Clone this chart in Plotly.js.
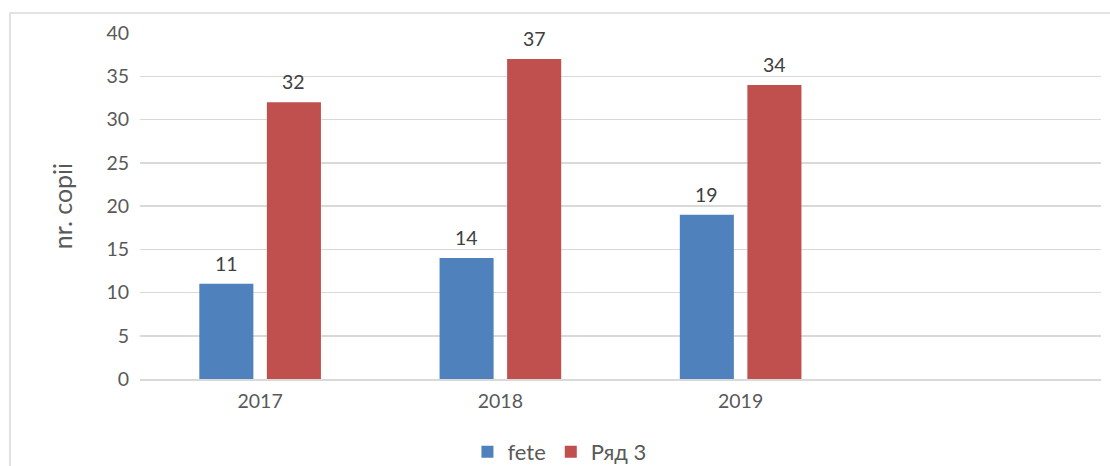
<!DOCTYPE html>
<html><head><meta charset="utf-8">
<script src="https://cdn.plot.ly/plotly-3.0.1.min.js"></script>
<style>body{margin:0;background:#fff}#c{width:1110px;height:466px}</style>
</head><body><div id="c"></div>
<script>
const categories = ["2017", "2018", "2019"];
const feteValues = [11, 14, 19];
const rad3Values = [32, 37, 34];
const seriesNames = ["fete", "Ряд 3"];
const yTicks = [0, 5, 10, 15, 20, 25, 30, 35, 40];

const font = "Lato, 'Open Sans', sans-serif";
const colors = ["#4f81bd", "#c0504d"];
const traces = [
  {type:"bar", name:seriesNames[0], x:categories, y:feteValues, marker:{color:colors[0]}},
  {type:"bar", name:seriesNames[1], x:categories, y:rad3Values, marker:{color:colors[1]}}
];
// value labels above bars (grouped offset of half a bar slot)
const annotations = [];
[feteValues, rad3Values].forEach((vals, si) => {
  vals.forEach((v, i) => annotations.push({
    x: i, y: v, xref:"x", yref:"y", text:String(v), showarrow:false,
    xanchor:"center", yanchor:"bottom", xshift: si === 0 ? -33.75 : 33.75, yshift: 7,
    font:{family:font, size:19.5, color:"#404040"}
  }));
});
const layout = {
  width:1110, height:466,
  margin:{l:140, r:9, t:33, b:87},
  paper_bgcolor:"#fff", plot_bgcolor:"#fff",
  font:{family:font, color:"#595959", size:19},
  barmode:"group", bargap:0.4375, bargroupgap:0.2,
  xaxis:{type:"category", range:[-0.5, 3.5], showgrid:false, zeroline:false,
         showline:true, linecolor:"#d9d9d9", linewidth:1.5,
         tickfont:{family:font,size:19.5,color:"#595959"}, ticks:"outside", ticklen:4, tickcolor:"rgba(0,0,0,0)"},
  yaxis:{range:[0,40], tickvals:yTicks, showgrid:true, gridcolor:"#d9d9d9", gridwidth:1.5,
         zeroline:false, showline:false, ticks:"outside", ticklen:6, tickcolor:"rgba(0,0,0,0)",
         tickfont:{family:font,size:19.5,color:"#595959"},
         title:{text:"nr. copii", font:{family:font,size:25,color:"#595959"}, standoff:26}},
  showlegend:true,
  legend:{orientation:"h", xref:"container", yref:"container", x:0.504, xanchor:"center", y:0.03, yanchor:"middle",
          font:{family:font,size:22,color:"#595959"}, traceorder:"normal", itemwidth:30},
  annotations: annotations,
  shapes:[{type:"rect", xref:"paper", yref:"paper", x0:-0.1353, x1:1.05, y0:-0.5, y1:1.0578,
           line:{color:"#d9d9d9", width:1.5}, fillcolor:"rgba(0,0,0,0)", layer:"below"}]
};
Plotly.newPlot("c", traces, layout, {displayModeBar:false, staticPlot:true});
</script></body></html>
